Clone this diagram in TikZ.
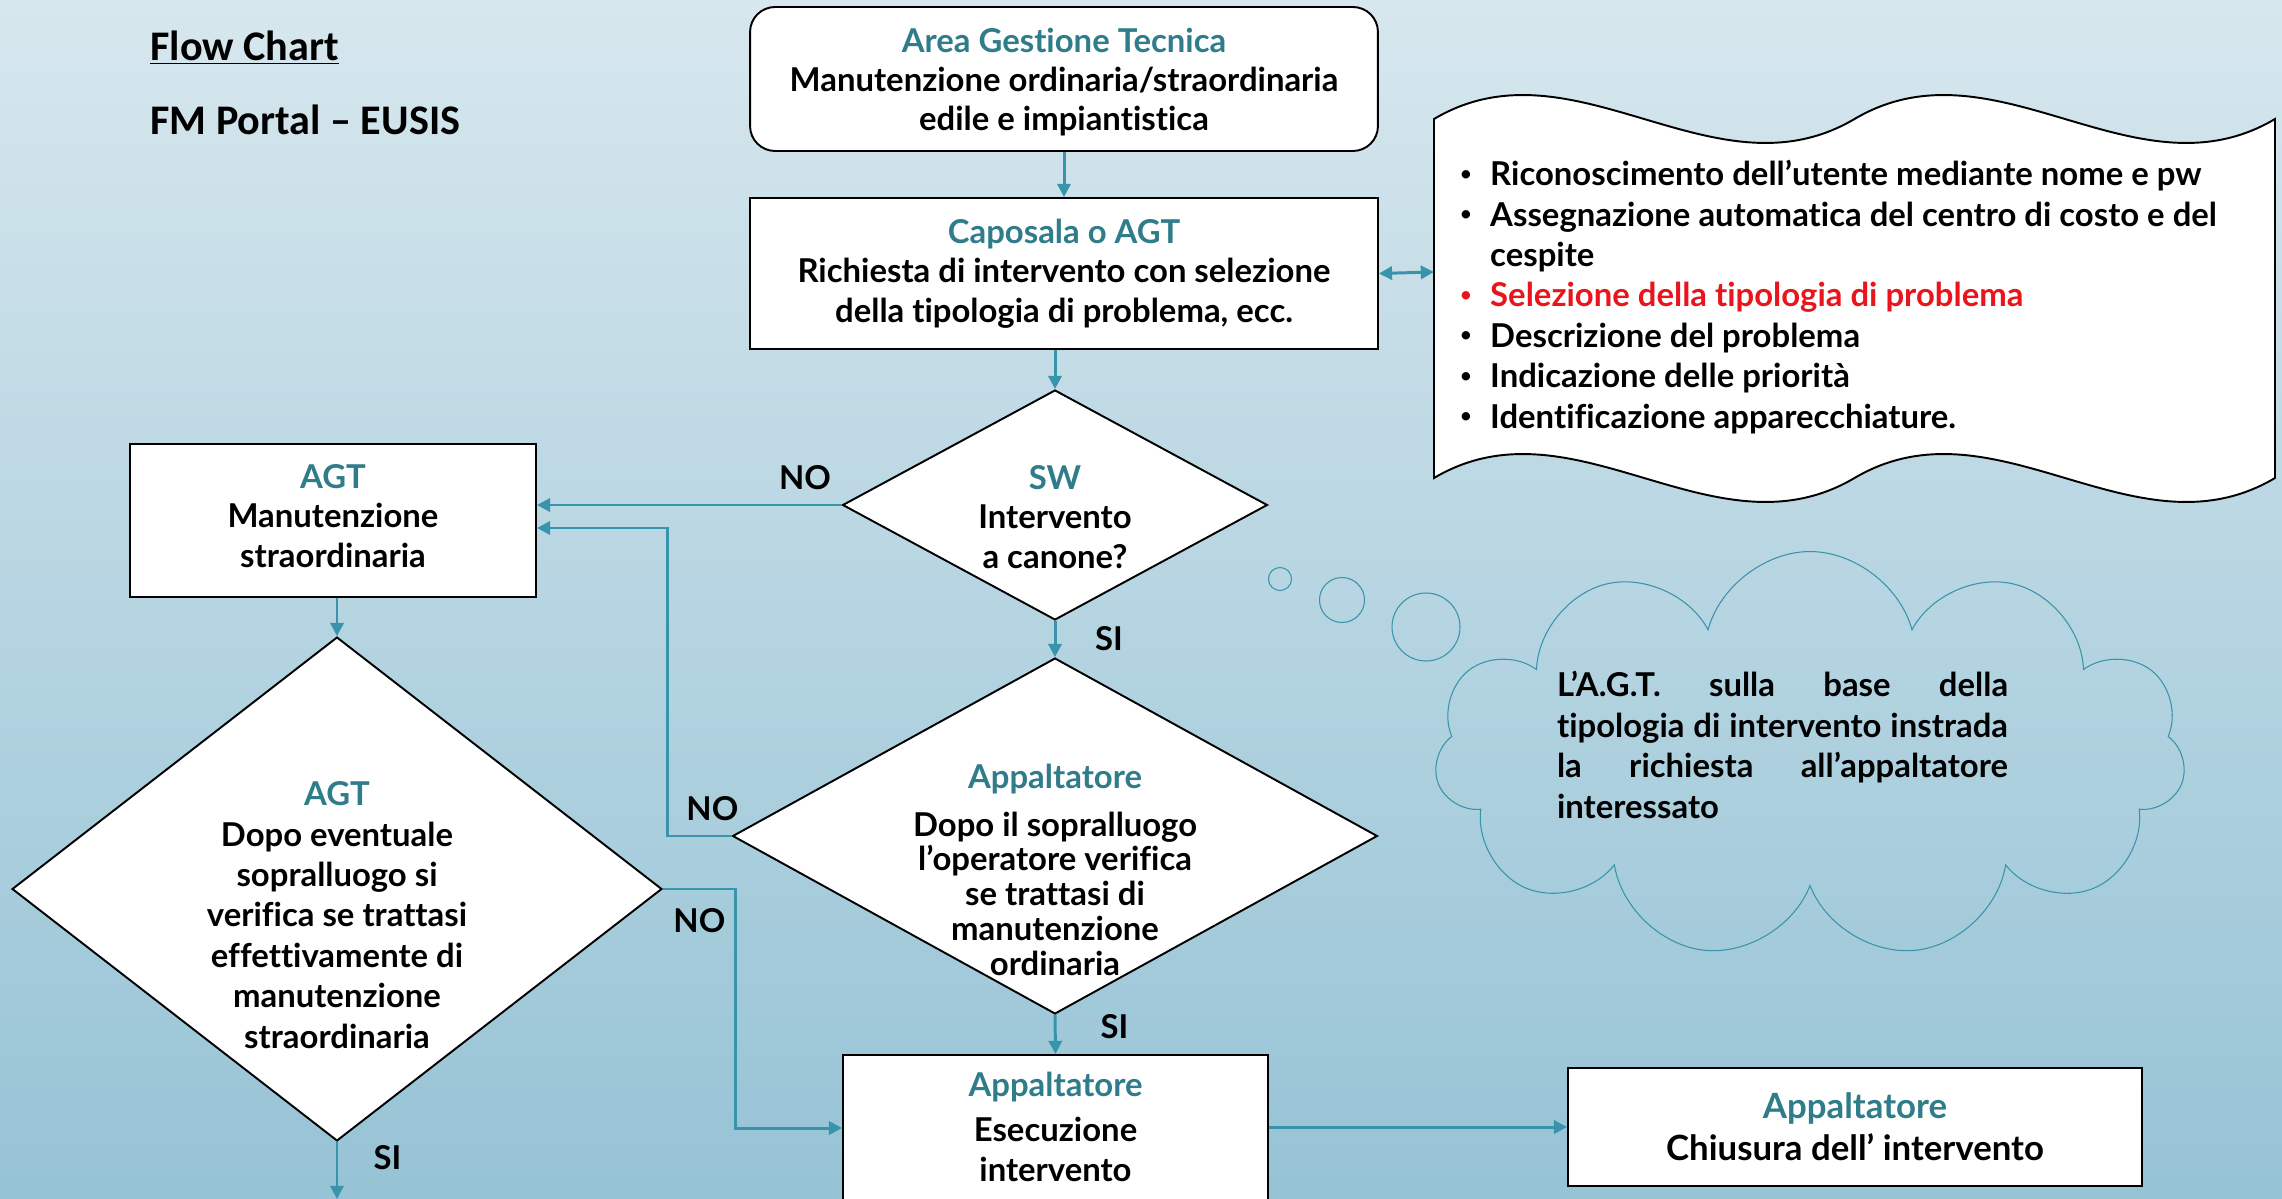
\documentclass[tikz,border=0pt]{standalone}
\usepackage{fontspec}
\setmainfont{Lato}[Ligatures={TeX,NoCommon}]
\newfontfamily\titlefont{Carlito}
\usetikzlibrary{calc,positioning,shapes.geometric,shapes.symbols,arrows.meta}

\definecolor{bgtop}{RGB}{215,231,238}
\definecolor{bgbottom}{RGB}{150,195,213}
\definecolor{headteal}{RGB}{47,124,138}
\definecolor{linkteal}{RGB}{55,148,170}
\definecolor{listred}{RGB}{232,22,28}

\newcommand\boxfont{\fontsize{18.7pt}{22.5pt}\selectfont\bfseries}
\newcommand\listfont{\fontsize{18.7pt}{23pt}\selectfont\bfseries}
\newcommand\bigtitle{\titlefont\fontsize{24pt}{28pt}\selectfont\bfseries}
\newcommand\head[1]{\textcolor{headteal}{#1}}
\newcommand\dotitem{\makebox[17pt][l]{\raisebox{0.17em}{\fontsize{11pt}{11pt}\selectfont\textbullet}}}

\tikzset{
  plainbox/.style={draw=black, line width=1.1pt, fill=white, align=center, font=\boxfont, inner sep=0pt},
  decision/.style={diamond, draw=black, line width=1.1pt, fill=white, inner sep=0pt},
  boxtext/.style={align=center, font=\boxfont, inner sep=0pt},
  answer/.style={font=\boxfont, inner sep=0pt},
  flow/.style={draw=linkteal, line width=1.7pt},
  bubble/.style={draw=linkteal, line width=0.6pt},
}

\begin{document}
\begin{tikzpicture}[x=0.02cm, y=-0.02cm, >={Triangle[length=7.5pt,width=7.5pt]}]
\useasboundingbox (0,0) rectangle (2282,1199);
\clip (0,0) rectangle (2282,1199);
\fill[top color=bgtop, bottom color=bgbottom] (0,0) rectangle (2282,1199);

\node[anchor=base west, inner sep=0pt, font=\bigtitle] (title) at (150,61) {\underline{Flow Chart}};
\node[anchor=base west, inner sep=0pt, font=\bigtitle] (subtitle) at (150,135) {FM Portal – EUSIS};

% boxes
\node[plainbox, rounded corners=0.5cm, minimum width=12.56cm, minimum height=2.88cm] (area) at (1064,79) {};
\node[boxtext, font=\fontsize{18.7pt}{22pt}\selectfont\bfseries] (areatext) at (1064,82)
  {\head{Area Gestione Tecnica}\\Manutenzione ordinaria/straordinaria\\edile e impiantistica};
\node[plainbox, minimum width=12.56cm, minimum height=3.02cm] (request) at (1064,273.5)
  {\head{Caposala o AGT}\\Richiesta di intervento con selezione\\della tipologia di problema, ecc.};
\node[plainbox, minimum width=8.12cm, minimum height=3.06cm] (agtbox) at (333,520.5) {};
\node[boxtext] (agtboxtext) at (333,516) {\head{AGT}\\Manutenzione\\straordinaria};
\node[plainbox, anchor=north, minimum width=8.5cm, minimum height=4cm] (execbox) at (1055.5,1054) {};
\node[boxtext] (exectext) at (1055.5,1127) {\head{Appaltatore}\\[3pt]Esecuzione\\intervento};
\node[plainbox, font=\fontsize{19.8pt}{24pt}\selectfont\bfseries, minimum width=11.48cm, minimum height=2.36cm] (closebox) at (1855,1127)
  {\head{Appaltatore}\\Chiusura dell’ intervento};

% decisions
\node[decision, minimum width=8.5cm, minimum height=4.6cm] (swcheck) at (1055,505) {};
\node[boxtext] (swtext) at (1055,517) {\head{SW}\\Intervento\\a canone?};
\node[decision, minimum width=12.9cm, minimum height=7.12cm] (appcheck) at (1055,836) {};
\node[boxtext, font=\fontsize{18.7pt}{19.8pt}\selectfont\bfseries] (apptext) at (1055,870)
  {\head{Appaltatore}\\[7pt]Dopo il sopralluogo\\l’operatore verifica\\se trattasi di\\manutenzione\\ordinaria};
\node[decision, minimum width=13cm, minimum height=10.08cm] (agtcheck) at (337,889) {};
\node[boxtext, font=\fontsize{18.7pt}{23pt}\selectfont\bfseries] (agttext) at (337,915)
  {\head{AGT}\\Dopo eventuale\\sopralluogo si\\verifica se trattasi\\effettivamente di\\manutenzione\\straordinaria};

% request details
\draw[draw=black, line width=1.1pt, fill=white] (1434,119) .. controls (1574,36) and (1714,202) .. (1854.5,119)
  .. controls (1995,36) and (2135,202) .. (2275,119) -- (2275,478)
  .. controls (2135,561) and (1995,395) .. (1854.5,478)
  .. controls (1714,561) and (1574,395) .. (1434,478) -- cycle;
\coordinate (listin) at (1434,272);
\node[anchor=west, align=left, font=\listfont, inner sep=0pt] (reqlist) at (1460,297)
  {\dotitem Riconoscimento dell’utente mediante nome e pw\\
   \dotitem Assegnazione automatica del centro di costo e del\\
   \makebox[17pt]{}cespite\\
   \textcolor{listred}{\dotitem Selezione della tipologia di problema}\\
   \dotitem Descrizione del problema\\
   \dotitem Indicazione delle priorità\\
   \dotitem Identificazione apparecchiature.};

% thought
\draw[bubble] (1280,579) circle[radius=11.5];
\draw[bubble] (1342,600) circle[radius=22.5];
\draw[bubble] (1426,627) circle[radius=34];
\node[cloud, cloud puffs=11, bubble, minimum width=15.02cm, minimum height=8.14cm] (thought) at (1810,755) {};
\node[anchor=center, align=left, text width=9.02cm, font=\listfont, inner sep=0pt] (thoughttext) at (1782.5,745)
  {L’A.G.T.\hfill sulla\hfill base\hfill della\\
   tipologia\hfill di\hfill intervento\hfill instrada\\
   la\hfill richiesta\hfill all’appaltatore\\
   interessato};

% connectors
\draw[flow, ->] (area.south) -- (request.north);
\draw[flow, <->] (request.east) -- (listin);
\draw[flow, ->] (request.south -| swcheck.north) -- (swcheck.north);
\draw[flow, ->] (swcheck.west) -- node[answer, above=8pt, pos=0.12] {NO} (swcheck.west -| agtbox.east);
\draw[flow, ->] (swcheck.south) -- node[answer, right=22pt] {SI} (appcheck.north);
\draw[flow, ->] (appcheck.west) -- node[answer, above=8pt, pos=0.3] {NO} ++(-64,0) |- ($(agtbox.east)+(0,7.5)$);
\draw[flow, ->] (appcheck.south) -- node[answer, right=25pt, pos=0.3] {SI} (execbox.north);
\draw[flow, ->] (agtbox.south -| agtcheck.north) -- (agtcheck.north);
\draw[flow, ->] (agtcheck.east) -- node[answer, below=10pt] {NO} ++(73,0) |- ($(execbox.north west)+(0,74)$);
\coordinate (agtout) at (337,1199);
\draw[flow, ->] (agtcheck.south) -- node[answer, right=20pt, pos=0.27] {SI} (agtout);
\draw[flow, ->] (closebox.west -| execbox.east) -- (closebox.west);
\end{tikzpicture}
\end{document}
